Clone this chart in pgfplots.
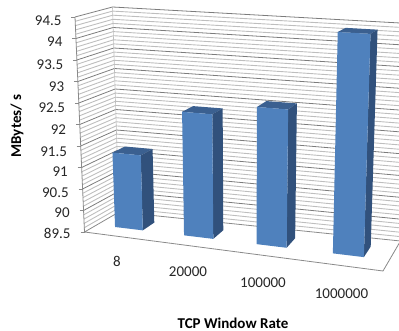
\documentclass[border=0pt]{standalone}
\usepackage{pgfplots}
\pgfplotsset{compat=1.18}
\usepackage{fontspec}
\setmainfont{Carlito}

% Scene corners: u runs along the categories, d into the chart, w up the value axis.
\pgfmathdeclarefunction{sceneX}{3}{\pgfmathparse{(1-#3)*((1-#2)*((1-#1)*84.5+#1*383)+#2*((1-#1)*119+#1*400.5))+#3*((1-#2)*((1-#1)*75+#1*391)+#2*((1-#1)*112.5+#1*409))}}
\pgfmathdeclarefunction{sceneY}{3}{\pgfmathparse{(1-#3)*((1-#2)*((1-#1)*232+#1*271)+#2*((1-#1)*212+#1*241))+#3*((1-#2)*((1-#1)*17+#1*35)+#2*((1-#1)*7+#1*23.5))}}

\definecolor{barfront}{HTML}{4F81BD}
\definecolor{barside}{HTML}{31517C}
\definecolor{bartop}{HTML}{3B6090}
\definecolor{gridmajor}{HTML}{7C7C7C}
\definecolor{gridminor}{HTML}{BEBEBE}
\definecolor{wallline}{HTML}{8A8A8A}
\definecolor{labelcol}{HTML}{262626}

\pgfplotsset{/pgfplots/table/scene/.style={x expr={sceneX(\thisrow{u},\thisrow{d},\thisrow{w})},y expr={sceneY(\thisrow{u},\thisrow{d},\thisrow{w})},row sep=\\}}

% One grid level: across the side wall, then along the back wall.
\newcommand{\gridlevel}[2]{%
  \addplot[#2,forget plot] table[scene]{u d w\\ 0 0 #1\\ 0 1 #1\\ 1 1 #1\\};}

% One column: from, to along u, then its value.
\newcommand{\drawbar}[3]{%
  \pgfmathsetmacro{\hh}{(#3-89.5)/5}%
  \edef\doit{\noexpand\addplot[fill=bartop,draw=none,forget plot] table[scene]{u d w\noexpand\\ #1 0.36 \hh\noexpand\\ #2 0.36 \hh\noexpand\\ #2 0.72 \hh\noexpand\\ #1 0.72 \hh\noexpand\\} -- cycle;
  \noexpand\addplot[fill=barside,draw=none,forget plot] table[scene]{u d w\noexpand\\ #2 0.36 0\noexpand\\ #2 0.72 0\noexpand\\ #2 0.72 \hh\noexpand\\ #2 0.36 \hh\noexpand\\} -- cycle;
  \noexpand\addplot[fill=barfront,draw=none,forget plot] table[scene]{u d w\noexpand\\ #1 0.36 0\noexpand\\ #2 0.36 0\noexpand\\ #2 0.36 \hh\noexpand\\ #1 0.36 \hh\noexpand\\} -- cycle;}\doit}

\begin{document}
\begin{tikzpicture}
\begin{axis}[
  name=scene,
  scale only axis,width=399pt,height=331pt,
  xmin=0,xmax=399,ymin=0,ymax=331,y dir=reverse,
  axis lines=none,clip=true,
  every axis plot/.append style={line width=0.6pt}]

% Wall grid, finest first so that the 0.5 steps lie on top.
\pgfplotsinvokeforeach{0.02,0.04,0.06,0.08,0.12,0.14,0.16,0.18,0.22,0.24,0.26,0.28,0.32,0.34,0.36,0.38,0.42,0.44,0.46,0.48,0.52,0.54,0.56,0.58,0.62,0.64,0.66,0.68,0.72,0.74,0.76,0.78,0.82,0.84,0.86,0.88,0.92,0.94,0.96,0.98}{\gridlevel{#1}{gridminor,line width=0.9pt}}
\pgfplotsinvokeforeach{0.1,0.2,0.3,0.4,0.5,0.6,0.7,0.8,0.9,1}{\gridlevel{#1}{gridmajor,line width=0.8pt}}

% Floor outline and the side wall's edge.
\addplot[wallline,line width=0.8pt,forget plot] table[scene]{u d w\\ 0 1 0\\ 0 0 0\\ 1 0 0\\ 1 1 0\\ 0 1 0\\};
\addplot[wallline,line width=0.8pt,forget plot] table[scene]{u d w\\ 0 0 1\\ 0 0 0\\};
\addplot[gridminor,line width=0.6pt,forget plot] table[scene]{u d w\\ 0 1 1\\ 0 1 0\\};

% Value ticks on the front edge of the side wall.
\pgfplotsinvokeforeach{0,0.1,0.2,0.3,0.4,0.5,0.6,0.7,0.8,0.9,1}{%
  \addplot[wallline,line width=0.7pt,forget plot] table[x expr={sceneX(0,0,\thisrow{w})+\thisrow{o}},y expr={sceneY(0,0,\thisrow{w})},row sep=\\]{o w\\ -4 #1\\ 0 #1\\};}

% Throughput per window rate, left to right.
\drawbar{0.062}{0.157}{91.25}
\drawbar{0.298}{0.398}{92.35}
\drawbar{0.546}{0.649}{92.6}
\drawbar{0.807}{0.913}{94.4}

% Value labels follow the slanted edge of the wall.
\begin{scope}[font=\fontsize{15}{16}\selectfont,text=labelcol]
\node[anchor=east,inner sep=0pt] at (axis cs:61.7,20.5) {94.5};
\node[anchor=east,inner sep=0pt] at (axis cs:62.6,42) {94};
\node[anchor=east,inner sep=0pt] at (axis cs:63.5,65) {93.5};
\node[anchor=east,inner sep=0pt] at (axis cs:64.4,86.5) {93};
\node[anchor=east,inner sep=0pt] at (axis cs:65.3,108) {92.5};
\node[anchor=east,inner sep=0pt] at (axis cs:66.2,129.5) {92};
\node[anchor=east,inner sep=0pt] at (axis cs:67.1,151.5) {91.5};
\node[anchor=east,inner sep=0pt] at (axis cs:68,172) {91};
\node[anchor=east,inner sep=0pt] at (axis cs:68.9,192.5) {90.5};
\node[anchor=east,inner sep=0pt] at (axis cs:69.8,213) {90};
\node[anchor=east,inner sep=0pt] at (axis cs:70.7,233.5) {89.5};
\node at (axis cs:117,261) {8};
\node at (axis cs:188,272) {20000};
\node at (axis cs:263,283) {100000};
\node at (axis cs:341.5,294) {1000000};
\end{scope}
\node[font=\fontsize{15}{16}\selectfont\bfseries,text=black,inner sep=0pt] at (axis cs:233,323) {TCP Window Rate};
\node[font=\fontsize{15}{16}\selectfont\bfseries,text=black,rotate=90,inner sep=0pt] at (axis cs:17,126) {MBytes/ s};
\end{axis}
\pgfresetboundingbox
\useasboundingbox (scene.south west) rectangle (scene.north east);
\end{tikzpicture}
\end{document}
